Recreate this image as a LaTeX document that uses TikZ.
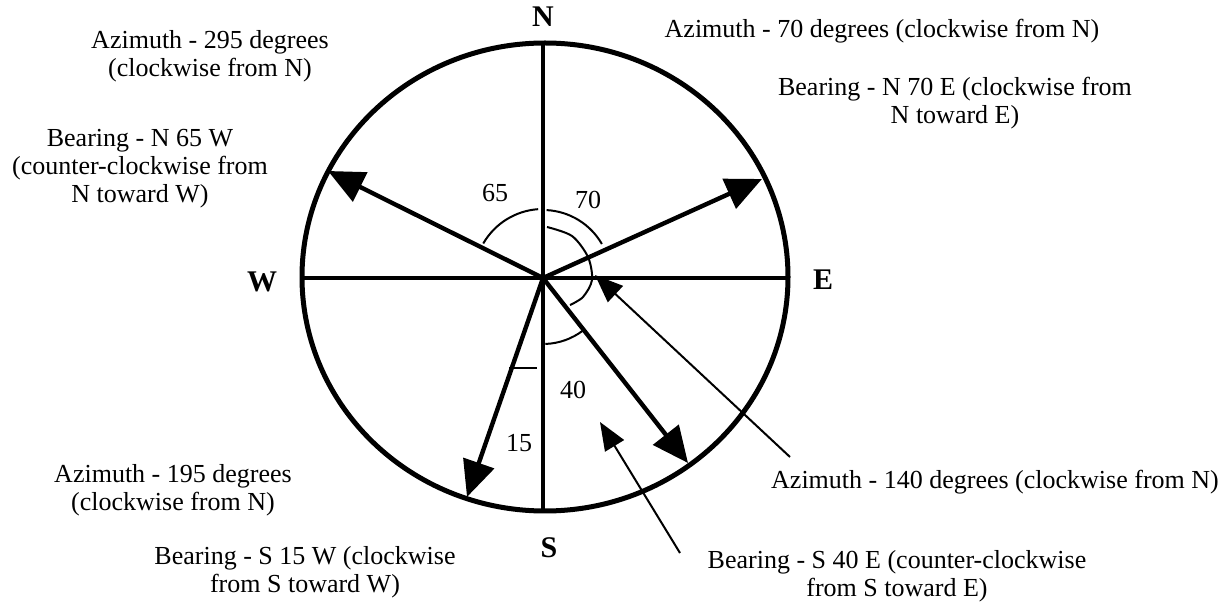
\documentclass[tikz,border=0pt]{standalone}
\usepackage{fontspec}
\setmainfont{Liberation Serif}
\usetikzlibrary{arrows.meta}

\begin{document}
\begin{tikzpicture}[x=0.5pt, y=-0.5pt, >={Triangle[length=18pt,width=16pt]},
  lbl/.style={align=center, inner sep=0pt, font=\fontsize{13}{14}\selectfont},
  dirlbl/.style={inner sep=0pt, font=\fontsize{15}{15}\selectfont\bfseries},
  bearing/.style={->, line width=2.2pt},
  leader/.style={-{Triangle[length=14pt,width=11pt]}, line width=1pt},
  angarc/.style={line width=1pt}]
  \useasboundingbox (0,0) rectangle (1228,604);
  \coordinate (o) at (543,278);
  \coordinate (n) at (543,43); \coordinate (s) at (543,511);
  \coordinate (w) at (302,278); \coordinate (e) at (788,278);
  \coordinate (tipNW) at (328,171); \coordinate (tipNE) at (762,179);
  \coordinate (tipSW) at (467,497); \coordinate (tipSE) at (688,463);
  \draw[line width=2.5pt] (545,277) ellipse [x radius=243, y radius=234];
  \draw[line width=2pt] (n) -- (s); \draw[line width=2pt] (w) -- (e);
  \draw[bearing] (o) -- (tipNW); \draw[bearing] (o) -- (tipNE);
  \draw[bearing] (o) -- (tipSW); \draw[bearing] (o) -- (tipSE);
  \draw[angarc] (o) ++(-94:69) arc[start angle=-94, end angle=-150, radius=69];
  \draw[angarc] (o) ++(-87:68) arc[start angle=-87, end angle=-30, radius=68];
  \draw[angarc] (o) ++(88:66) arc[start angle=88, end angle=53, radius=66];
  \draw[angarc] plot[smooth] coordinates {(547,227) (572,236) (588,257) (592,280) (583,297) (570,305)};
  \draw[angarc] (509,368) -- (537,368);
  \node[dirlbl] (lN) at (543,17) {N};
  \node[dirlbl] (lS) at (549,548) {S};
  \node[dirlbl] (lW) at (262,282) {W};
  \node[dirlbl] (lE) at (823,280) {E};
  \node[lbl] (a65) at (495,193) {65};
  \node[lbl] (a70) at (588,200) {70};
  \node[lbl] (a40) at (573,390) {40};
  \node[lbl] (a15) at (519,443) {15};
  \node[lbl] (az295) at (210,56) {Azimuth - 295 degrees\\(clockwise from N)};
  \node[lbl] (bN65W) at (140,169) {Bearing - N 65 W\\(counter-clockwise from\\N toward W)};
  \node[lbl] (az70) at (882,31) {Azimuth - 70 degrees (clockwise from N)};
  \node[lbl] (bN70E) at (955,103) {Bearing - N 70 E (clockwise from\\N toward E)};
  \node[lbl] (az195) at (173,490) {Azimuth - 195 degrees\\(clockwise from N)};
  \node[lbl] (bS15W) at (305,572) {Bearing - S 15 W (clockwise\\from S toward W)};
  \node[lbl] (az140) at (995,482) {Azimuth - 140 degrees (clockwise from N)};
  \node[lbl] (bS40E) at (897,576) {Bearing - S 40 E (counter-clockwise\\from S toward E)};
  \coordinate (from140) at (790,457); \coordinate (to140) at (595,275);
  \coordinate (from40) at (680,553); \coordinate (to40) at (600,422);
  \draw[leader] (from140) -- (to140);
  \draw[leader] (from40) -- (to40);
\end{tikzpicture}
\end{document}
